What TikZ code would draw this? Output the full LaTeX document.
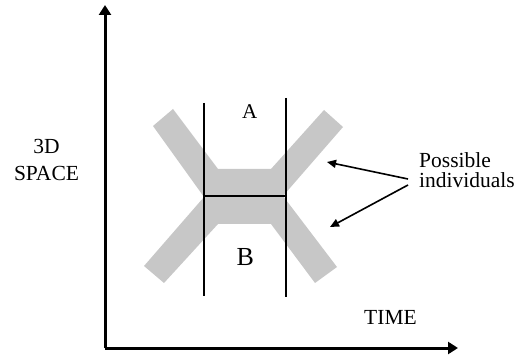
\documentclass[tikz,border=0pt]{standalone}
\usepackage{fontspec}
\setmainfont{Liberation Serif}
\usetikzlibrary{arrows.meta}
\begin{document}
\begin{tikzpicture}[x=1pt,y=-1pt,
  axis/.style={line width=3pt,-{Triangle[length=10pt,width=12pt]}},
  divider/.style={line width=1.4pt},
  pointer/.style={line width=1.6pt,-{Triangle[length=9pt,width=8pt]}},
  lbl/.style={inner sep=0pt,font=\fontsize{21.5}{22}\selectfont}]
\useasboundingbox (0,0) rectangle (514,355);
% gray individuals
\fill[black!22] (153,126) -- (173,109) -- (218,169) -- (271,169) -- (324,110)
  -- (343,127) -- (283,196) -- (337,267) -- (315,283) -- (271,224)
  -- (218,224) -- (164,283) -- (144,266) -- (204,197) -- cycle;
% axes
\coordinate (O) at (105,348);
\coordinate (ytip) at (105,5);
\coordinate (xtip) at (458,348);
\draw[axis] (O) -- (ytip);
\draw[axis] (O) -- (xtip);
% dividing lines
\coordinate (l1) at (204,103);
\coordinate (l2) at (204,296);
\coordinate (r1) at (286,98);
\coordinate (r2) at (286,297);
\coordinate (hl) at (204,196);
\coordinate (hr) at (286,196);
\draw[divider] (l1) -- (l2);
\draw[divider] (r1) -- (r2);
\draw[divider] (hl) -- (hr);
% labels
\node[lbl,anchor=base,font=\fontsize{21}{22}\selectfont] (A) at (249.7,119) {A};
\node[lbl,anchor=base,font=\fontsize{26}{27}\selectfont] (B) at (245.3,266) {B};
\node[lbl,anchor=base] (time) at (390.5,324) {TIME};
\node[lbl,align=center,font=\fontsize{21.5}{26.5}\selectfont] (space) at (46.5,160) {3D\\SPACE};
\node[lbl,align=left,anchor=west,font=\fontsize{21.5}{20.5}\selectfont] (poss) at (419,170) {Possible\\individuals};
% pointers
\coordinate (s1) at (408,179);
\coordinate (s2) at (408,185);
\coordinate (t1) at (327,162);
\coordinate (t2) at (330,227);
\draw[pointer] (s1) -- (t1);
\draw[pointer] (s2) -- (t2);
\end{tikzpicture}
\end{document}
